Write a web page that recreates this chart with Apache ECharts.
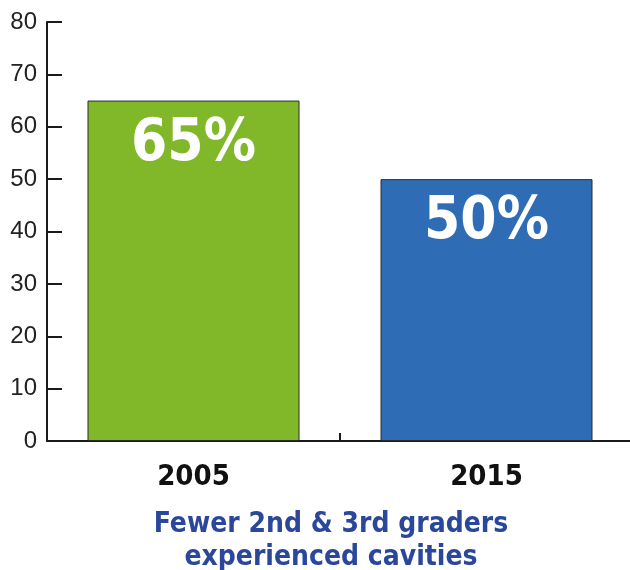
<!DOCTYPE html>
<html><head><meta charset="utf-8">
<script src="https://cdn.jsdelivr.net/npm/echarts@6/dist/echarts.min.js"></script>
<style>html,body{margin:0;padding:0;background:#fff}#c{width:630px;height:570px}</style>
</head><body><div id="c"></div>
<script>
const categories = ['2005', '2015'];
const values = [65, 50];
const barLabels = ['65%', '50%'];
const yTicks = [0, 10, 20, 30, 40, 50, 60, 70, 80];
const barColors = ['#80b82a', '#2e6db5'];
const titleLines = ['Fewer 2nd & 3rd graders', 'experienced cavities'];

const narrow = "'DejaVu Sans Condensed', sans-serif";
const chart = echarts.init(document.getElementById('c'));
chart.setOption({
  animation: false,
  backgroundColor: '#fff',
  title: {
    text: titleLines.join('\n'),
    left: 326, top: 503, textAlign: 'center',
    textStyle: { fontFamily: narrow, fontWeight: 'bold', fontSize: 28, color: '#2a479c', lineHeight: 33 }
  },
  grid: { left: 47, width: 586, top: 22, bottom: 129, containLabel: false, outerBoundsMode: 'none' },
  xAxis: {
    type: 'category', data: categories,
    axisLine: { lineStyle: { color: '#1a1a1a', width: 2 } },
    axisTick: { show: true, inside: true, length: 8, lineStyle: { color: '#1a1a1a', width: 2 } },
    axisLabel: { margin: 22, fontFamily: narrow, fontWeight: 'bold', fontSize: 29, color: '#111' }
  },
  yAxis: {
    type: 'value', min: yTicks[0], max: yTicks[yTicks.length - 1], interval: yTicks[1] - yTicks[0],
    splitLine: { show: false },
    axisLine: { show: true, lineStyle: { color: '#1a1a1a', width: 2 } },
    axisTick: { show: true, inside: true, length: 15, lineStyle: { color: '#1a1a1a', width: 2 } },
    axisLabel: { margin: 10, fontFamily: 'Liberation Sans', fontSize: 24, color: '#222' }
  },
  series: [{
    type: 'bar', barWidth: 212,
    data: values.map((v, i) => ({ value: v, itemStyle: { color: barColors[i] }, label: { formatter: barLabels[i] } })),
    itemStyle: { borderColor: '#2a2a2a', borderWidth: 1 },
    label: {
      show: true, position: 'insideTop', distance: 15,
      fontFamily: narrow, fontWeight: 'bold', fontSize: 58, color: '#fff'
    }
  }]
});
</script></body></html>
